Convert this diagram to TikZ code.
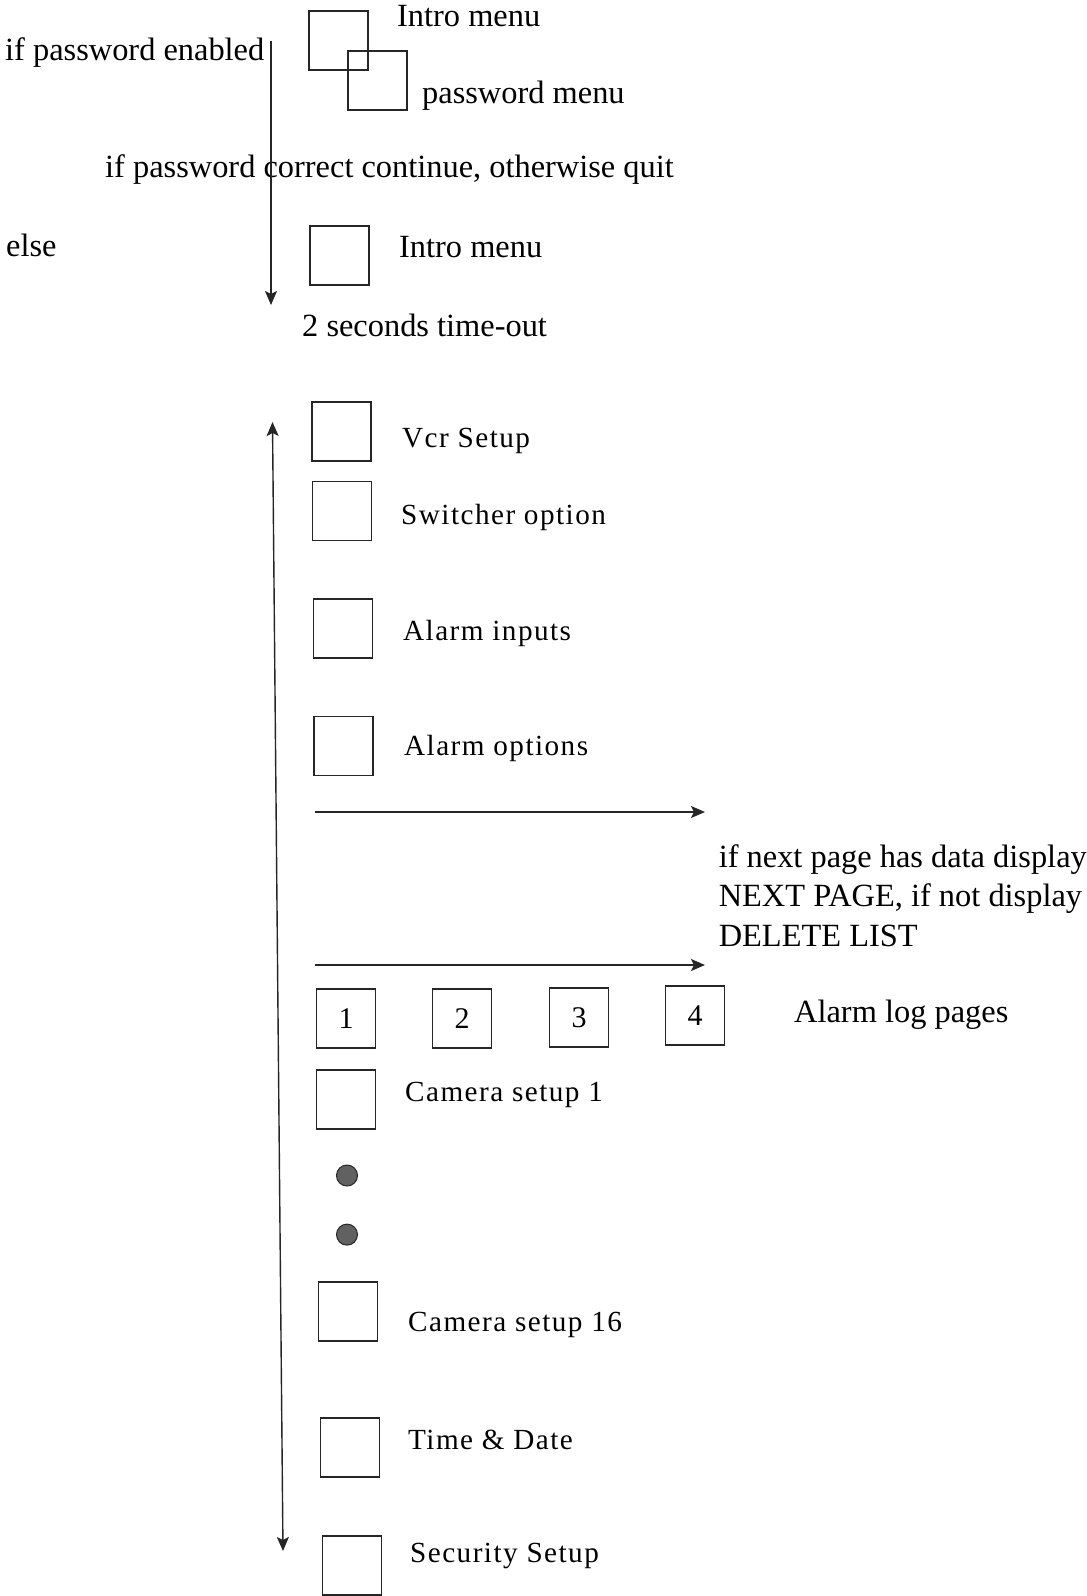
\documentclass[tikz,border=0pt]{standalone}
\usepackage{fontspec}
\setmainfont{Liberation Serif}
\newfontfamily\labfont[LetterSpace=5]{Liberation Serif}
\usetikzlibrary{arrows.meta}
\begin{document}
\begin{tikzpicture}[x=1pt,y=-1pt,
 txt/.style={anchor=west,inner sep=0pt,yshift=-3.5pt,font=\fontsize{32.4}{38}\selectfont},
 lab/.style={anchor=west,inner sep=0pt,yshift=-3.5pt,font=\labfont\fontsize{29.2}{34}\selectfont},
 menubox/.style={draw=black!85,line width=1.6pt,minimum width=59pt,minimum height=59pt,inner sep=0pt},
 numbox/.style={menubox,font=\fontsize{30}{36}\selectfont},
 arrowtip/.tip={Stealth[length=14pt,width=12pt,inset=3pt]},
 arr/.style={draw=black!85,line width=1.4pt,-arrowtip},
 darr/.style={draw=black!85,line width=1.4pt,arrowtip-arrowtip},
 dotn/.style={circle,fill=black!62,draw=black!85,line width=1pt,minimum size=21pt,inner sep=0pt}]
\fill[white] (0,0) rectangle (1087,1596);
\useasboundingbox (0,0) rectangle (1087,1596);

% top section
\node[menubox] (introA) at (338.5,40.5) {};
\node[menubox] (pwd) at (377.5,80.5) {};
\node[txt] (tIntroA) at (397,13) {Intro menu};
\node[txt] (tPwd) at (422,92) {password menu};
\node[txt] (tEnabled) at (5,49) {if password enabled};
\node[txt] (tCorrect) at (105,166) {if password correct continue, otherwise quit};
\node[txt] (tElse) at (6,242) {else};
\node[menubox] (introB) at (339.5,255.5) {};
\node[txt] (tIntroB) at (399,244) {Intro menu};
\node[txt] (tTimeout) at (302,322) {2 seconds time-out};
\coordinate (topS) at (271,41);
\coordinate (topE) at (271,305);
\draw[arr] (topS) -- (topE);

% menu loop
\coordinate (loopT) at (272.5,422);
\coordinate (loopB) at (283,1551);
\draw[darr] (loopB) -- (loopT);

\node[menubox] (vcr) at (341.5,431.5) {};
\node[lab] (tVcr) at (402,437) {Vcr Setup};
\node[menubox] (sw) at (342,511) {};
\node[lab] (tSw) at (401,514) {Switcher option};
\node[menubox] (ai) at (343,628.5) {};
\node[lab] (tAi) at (403,630) {Alarm inputs};
\node[menubox] (ao) at (343.5,746) {};
\node[lab] (tAo) at (404,745) {Alarm options};

\coordinate (a1s) at (314.5,812);
\coordinate (a1e) at (705,812);
\draw[arr] (a1s) -- (a1e);
\node[txt] (tNext1) at (718.6,856) {if next page has data display};
\node[txt] (tNext2) at (718.6,895) {NEXT PAGE, if not display};
\node[txt] (tNext3) at (718.6,932) {DELETE LIST};
\coordinate (a2s) at (314.5,965);
\coordinate (a2e) at (705,965);
\draw[arr] (a2s) -- (a2e);

\node[numbox] (p1) at (346,1018.5) {1};
\node[numbox] (p2) at (462,1018.5) {2};
\node[numbox] (p3) at (579,1017.5) {3};
\node[numbox] (p4) at (695,1015.5) {4};
\node[txt] (tLog) at (794,1011) {Alarm log pages};

\node[menubox] (cam1) at (346,1099.5) {};
\node[lab] (tCam1) at (405,1091) {Camera setup 1};
\node[dotn] (d1) at (347,1175.5) {};
\node[dotn] (d2) at (347,1234.6) {};
\node[menubox] (cam16) at (348,1311.5) {};
\node[lab] (tCam16) at (408,1321) {Camera setup 16};
\node[menubox] (td) at (350,1447.5) {};
\node[lab] (tTd) at (408,1436) {Time \& Date};
\node[menubox] (sec) at (352,1565.5) {};
\node[lab] (tSec) at (410,1552) {Security Setup};
\end{tikzpicture}
\end{document}
